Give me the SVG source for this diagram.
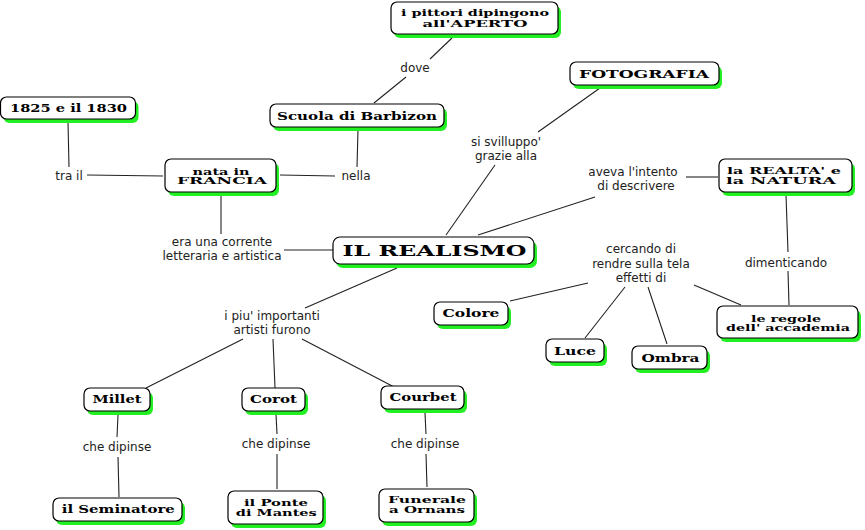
<svg xmlns="http://www.w3.org/2000/svg" width="865" height="530" viewBox="0 0 865 530">
<style>
.nb rect.s{fill:#22f022;stroke:none}
.nb rect.b{fill:#fff;stroke:#000;stroke-width:1.2}
.nb text{font-family:"DejaVu Serif",serif;font-weight:900;font-size:10.5px;text-anchor:middle;fill:#000}
.nb text.t{font-size:9.5px}
.lb{font-family:"DejaVu Sans","Liberation Sans",sans-serif;font-size:12px;text-anchor:middle;fill:#222}
#conn line{stroke:#222;stroke-width:1.1}
</style>
<rect width="865" height="530" fill="#fff"/>
<g id="conn">
<line x1="452" y1="38" x2="430" y2="59"/><line x1="406" y1="77" x2="374" y2="103"/>
<line x1="358" y1="130" x2="357" y2="167"/><line x1="335" y1="176" x2="280" y2="175"/>
<line x1="87" y1="175" x2="163" y2="176"/><line x1="68" y1="122" x2="69" y2="167"/>
<line x1="221" y1="196" x2="221" y2="234"/><line x1="284" y1="250" x2="333" y2="250"/>
<line x1="600" y1="88" x2="538" y2="132"/><line x1="495" y1="165" x2="446" y2="235"/>
<line x1="595" y1="197" x2="478" y2="235"/><line x1="686" y1="177" x2="718" y2="177"/>
<line x1="786" y1="195" x2="788" y2="252"/><line x1="788" y1="271" x2="789" y2="305"/>
<line x1="397" y1="268" x2="305" y2="308"/>
<line x1="243" y1="339" x2="146" y2="388"/><line x1="273" y1="339" x2="275" y2="388"/><line x1="302" y1="339" x2="396" y2="388"/>
<line x1="588" y1="283" x2="510" y2="301"/><line x1="625" y1="287" x2="585" y2="338"/>
<line x1="648" y1="287" x2="667" y2="344"/><line x1="694" y1="285" x2="741" y2="305"/>
<line x1="118" y1="415" x2="117" y2="437"/><line x1="118" y1="457" x2="119" y2="497"/>
<line x1="276" y1="414" x2="277" y2="434"/><line x1="277" y1="454" x2="277" y2="489"/>
<line x1="425" y1="413" x2="426" y2="434"/><line x1="426" y1="454" x2="427" y2="487"/>
</g>
<g class="lb">
<text x="415" y="72" class="lb">dove</text>
<text x="506" y="146" class="lb">si svilluppo'</text><text x="506" y="160" class="lb">grazie alla</text>
<text x="356" y="180" class="lb">nella</text>
<text x="69" y="180" class="lb">tra il</text>
<text x="633" y="176" class="lb">aveva l'intento</text><text x="636" y="190" class="lb">di descrivere</text>
<text x="222" y="246" class="lb">era una corrente</text><text x="222" y="260" class="lb">letteraria e artistica</text>
<text x="641" y="253" class="lb">cercando di</text><text x="641" y="268" class="lb">rendre sulla tela</text><text x="641" y="282" class="lb">effetti di</text>
<text x="786" y="267" class="lb">dimenticando</text>
<text x="272" y="320" class="lb">i piu' importanti</text><text x="272" y="334" class="lb">artisti furono</text>
<text x="117" y="451" class="lb">che dipinse</text>
<text x="276" y="448" class="lb">che dipinse</text>
<text x="425" y="448" class="lb">che dipinse</text>
</g>
<g id="n-pittori" class="nb"><rect class="s" x="394" y="6" width="167" height="32" rx="6"/><rect class="b" x="391" y="2" width="167" height="32" rx="6"/><text class="t" x="475" y="16" textLength="148" lengthAdjust="spacingAndGlyphs">i pittori dipingono</text><text class="t" x="475" y="26.5" textLength="105" lengthAdjust="spacingAndGlyphs">all'APERTO</text></g>
<g id="n-foto" class="nb"><rect class="s" x="573" y="66" width="149" height="23" rx="6"/><rect class="b" x="570" y="62" width="149" height="23" rx="6"/><text x="644" y="78" textLength="130" lengthAdjust="spacingAndGlyphs">FOTOGRAFIA</text></g>
<g id="n-1825" class="nb"><rect class="s" x="3.5" y="101" width="135" height="22" rx="6"/><rect class="b" x="0.5" y="97" width="135" height="22" rx="6"/><text x="68.5" y="111.5" textLength="117" lengthAdjust="spacingAndGlyphs">1825 e il 1830</text></g>
<g id="n-barbizon" class="nb"><rect class="s" x="273" y="108" width="174" height="23" rx="6"/><rect class="b" x="270" y="104" width="174" height="23" rx="6"/><text x="357" y="119.5" textLength="160" lengthAdjust="spacingAndGlyphs">Scuola di Barbizon</text></g>
<g id="n-francia" class="nb"><rect class="s" x="168" y="163" width="111" height="33" rx="6"/><rect class="b" x="165" y="159" width="111" height="33" rx="6"/><text class="t" x="221" y="174.5" textLength="57" lengthAdjust="spacingAndGlyphs">nata in</text><text class="t" x="222" y="184" textLength="90" lengthAdjust="spacingAndGlyphs">FRANCIA</text></g>
<g id="n-realta" class="nb"><rect class="s" x="722" y="163" width="133" height="33" rx="6"/><rect class="b" x="719" y="159" width="133" height="33" rx="6"/><text class="t" x="784" y="174.3" textLength="114" lengthAdjust="spacingAndGlyphs">la REALTA' e</text><text class="t" x="781" y="184" textLength="110" lengthAdjust="spacingAndGlyphs">la NATURA</text></g>
<g id="n-realismo" class="nb"><rect class="s" x="336" y="241" width="201" height="27" rx="7"/><rect class="b" x="333" y="237" width="201" height="27" rx="7"/><text x="434.5" y="256" style="font-size:14px" textLength="184" lengthAdjust="spacingAndGlyphs">IL REALISMO</text></g>
<g id="n-colore" class="nb"><rect class="s" x="437" y="306" width="74" height="23" rx="6"/><rect class="b" x="434" y="302" width="74" height="23" rx="6"/><text x="471" y="317" textLength="57" lengthAdjust="spacingAndGlyphs">Colore</text></g>
<g id="n-regole" class="nb"><rect class="s" x="720" y="310" width="141" height="32" rx="6"/><rect class="b" x="717" y="306" width="141" height="32" rx="6"/><text class="t" x="786" y="321.7" textLength="70" lengthAdjust="spacingAndGlyphs">le regole</text><text class="t" x="788" y="331" textLength="124" lengthAdjust="spacingAndGlyphs">dell' accademia</text></g>
<g id="n-luce" class="nb"><rect class="s" x="549" y="343" width="58" height="23" rx="6"/><rect class="b" x="546" y="339" width="58" height="23" rx="6"/><text x="575" y="355" textLength="42" lengthAdjust="spacingAndGlyphs">Luce</text></g>
<g id="n-ombra" class="nb"><rect class="s" x="635" y="350" width="75" height="23" rx="6"/><rect class="b" x="632" y="346" width="75" height="23" rx="6"/><text x="670.5" y="361.7" textLength="58" lengthAdjust="spacingAndGlyphs">Ombra</text></g>
<g id="n-millet" class="nb"><rect class="s" x="87" y="392" width="66" height="23" rx="6"/><rect class="b" x="84" y="388" width="66" height="23" rx="6"/><text x="117" y="402.7" textLength="49" lengthAdjust="spacingAndGlyphs">Millet</text></g>
<g id="n-corot" class="nb"><rect class="s" x="245" y="392" width="63" height="23" rx="6"/><rect class="b" x="242" y="388" width="63" height="23" rx="6"/><text x="273.5" y="402.7" textLength="47" lengthAdjust="spacingAndGlyphs">Corot</text></g>
<g id="n-courbet" class="nb"><rect class="s" x="384" y="390" width="83" height="23" rx="6"/><rect class="b" x="381" y="386" width="83" height="23" rx="6"/><text x="423" y="400.7" textLength="67" lengthAdjust="spacingAndGlyphs">Courbet</text></g>
<g id="n-seminatore" class="nb"><rect class="s" x="56" y="502" width="129" height="23" rx="6"/><rect class="b" x="53" y="498" width="129" height="23" rx="6"/><text x="118.3" y="512.7" textLength="113" lengthAdjust="spacingAndGlyphs">il Seminatore</text></g>
<g id="n-ponte" class="nb"><rect class="s" x="231" y="495" width="95" height="33" rx="6"/><rect class="b" x="228" y="491" width="95" height="33" rx="6"/><text class="t" x="276" y="506" textLength="64" lengthAdjust="spacingAndGlyphs">il Ponte</text><text class="t" x="276.3" y="516" textLength="81" lengthAdjust="spacingAndGlyphs">di Mantes</text></g>
<g id="n-funerale" class="nb"><rect class="s" x="382" y="493" width="95" height="33" rx="6"/><rect class="b" x="379" y="489" width="95" height="33" rx="6"/><text class="t" x="427" y="503.3" textLength="78" lengthAdjust="spacingAndGlyphs">Funerale</text><text class="t" x="427" y="513.3" textLength="76" lengthAdjust="spacingAndGlyphs">a Ornans</text></g>
</svg>
